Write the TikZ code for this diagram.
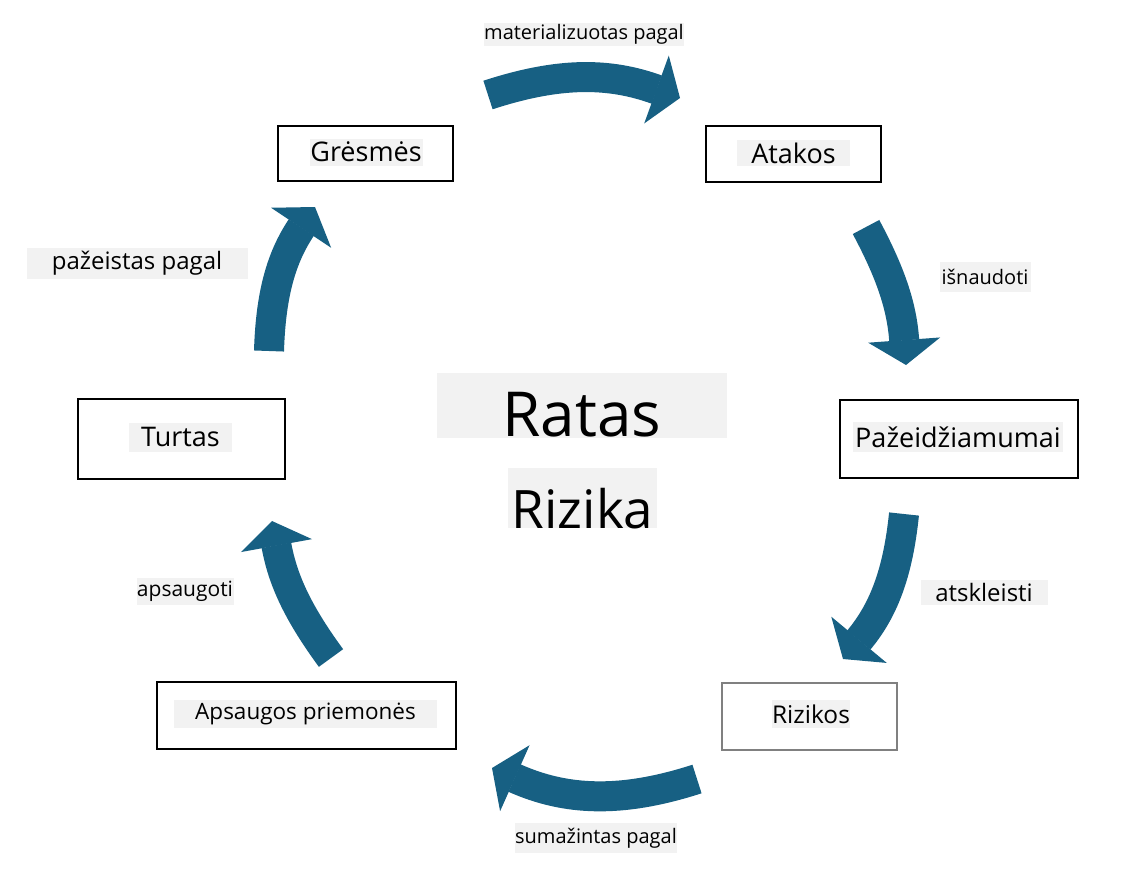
\documentclass[tikz,border=0pt]{standalone}
\usepackage{fontspec}
\setmainfont{Open Sans}
\usepackage{xcolor}
\usepackage{tikz}
\usetikzlibrary{arrows.meta}

\definecolor{flowblue}{RGB}{23,96,131}
\definecolor{hlgray}{RGB}{242,242,242}

\begin{document}
\begin{tikzpicture}[x=1pt,y=-1pt,
    box/.style={draw=black,line width=1.2pt,inner sep=0pt},
    hl/.style={fill=hlgray,inner sep=0pt,font=\fontsize{#1}{#1}\selectfont},
    hl/.default=27,
    lbl/.style={fill=hlgray,inner sep=0pt,font=\fontsize{#1}{#1}\selectfont},
    lbl/.default=20,
    flow/.style={line width=30pt,draw=flowblue,-{Triangle[length=25pt,width=72pt,line width=1.5pt]}}]
            \useasboundingbox (0,0) rectangle (1121,876);

            % boxes
            \node[box,minimum width=175pt,minimum height=55pt] (g) at (365.5,153.5) {};
            \node[box,minimum width=175pt,minimum height=56pt] (at) at (793.5,154) {};
            \node[box,minimum width=238pt,minimum height=78pt] (pz) at (959,439) {};
            \node[box,draw=gray,minimum width=175pt,minimum height=67pt] (rz) at (809.5,716.5) {};
            \node[box,minimum width=299pt,minimum height=67pt] (ap) at (306.5,715.5) {};
            \node[box,minimum width=207pt,minimum height=80pt] (tu) at (181.5,439) {};

            \node[hl,minimum width=113pt,minimum height=27pt] (gt) at (366,152) {Grėsmės};
            \node[hl,minimum width=113pt,minimum height=26pt] (att) at (793.5,153) {Atakos};
            \node[hl,minimum width=210pt,minimum height=30pt] (pzt) at (958,437) {Pažeidžiamumai};
            \node[hl=24.5,minimum width=78pt,minimum height=28pt] (rzt) at (811,714) {Rizikos};
            \node[hl=22.5,minimum width=263pt,minimum height=28pt] (apt) at (305.5,714) {Apsaugos priemonės};
            \node[hl,minimum width=103pt,minimum height=29pt] (tut) at (180.5,437) {Turtas};

            % labels
            \node[lbl,minimum width=199pt,minimum height=23pt] (m) at (584,34.5) {materializuotas pagal};
            \node[lbl,minimum width=91pt,minimum height=30pt] (i) at (985,277) {išnaudoti};
            \node[lbl=24,minimum width=127pt,minimum height=25pt] (as) at (984,592) {atskleisti};
            \node[lbl,minimum width=161pt,minimum height=30pt] (s) at (596,838) {sumažintas pagal};
            \node[lbl=21,minimum width=97pt,minimum height=27pt] (a) at (185,591) {apsaugoti};
            \node[lbl=24,minimum width=221pt,minimum height=31pt] (p) at (137,263) {pažeistas pagal};

            \node[fill=hlgray,inner sep=0pt,anchor=base,minimum width=290pt,text height=63pt,text depth=2pt,
                  font=\fontsize{62}{70}\selectfont] (ratas) at (582,436) {Ratas};
            \node[fill=hlgray,inner sep=0pt,anchor=base,minimum width=149pt,text height=60pt,text depth=0pt,
                  font=\fontsize{53}{60}\selectfont] (rizika) at (582.5,528) {Rizika};

            % arrows
            \coordinate (f1) at (488,95);   \coordinate (t1) at (680,98);
            \coordinate (f2) at (866,227);  \coordinate (t2) at (906,365);
            \coordinate (f3) at (904,514);  \coordinate (t3) at (843,659);
            \coordinate (f4) at (697,779);  \coordinate (t4) at (492,768);
            \coordinate (f5) at (331,658);  \coordinate (t5) at (272,521);
            \coordinate (f6) at (269,351);  \coordinate (t6) at (315,207);
            \draw[flow] (f1) to[bend left=19] (t1);
            \draw[flow] (f2) to[bend left=12] (t2);
            \draw[flow] (f3) to[bend left=17] (t3);
            \draw[flow] (f4) to[bend left=21] (t4);
            \draw[flow] (f5) to[bend left=13] (t5);
            \draw[flow] (f6) to[bend left=16] (t6);
        \end{tikzpicture}
\end{document}
